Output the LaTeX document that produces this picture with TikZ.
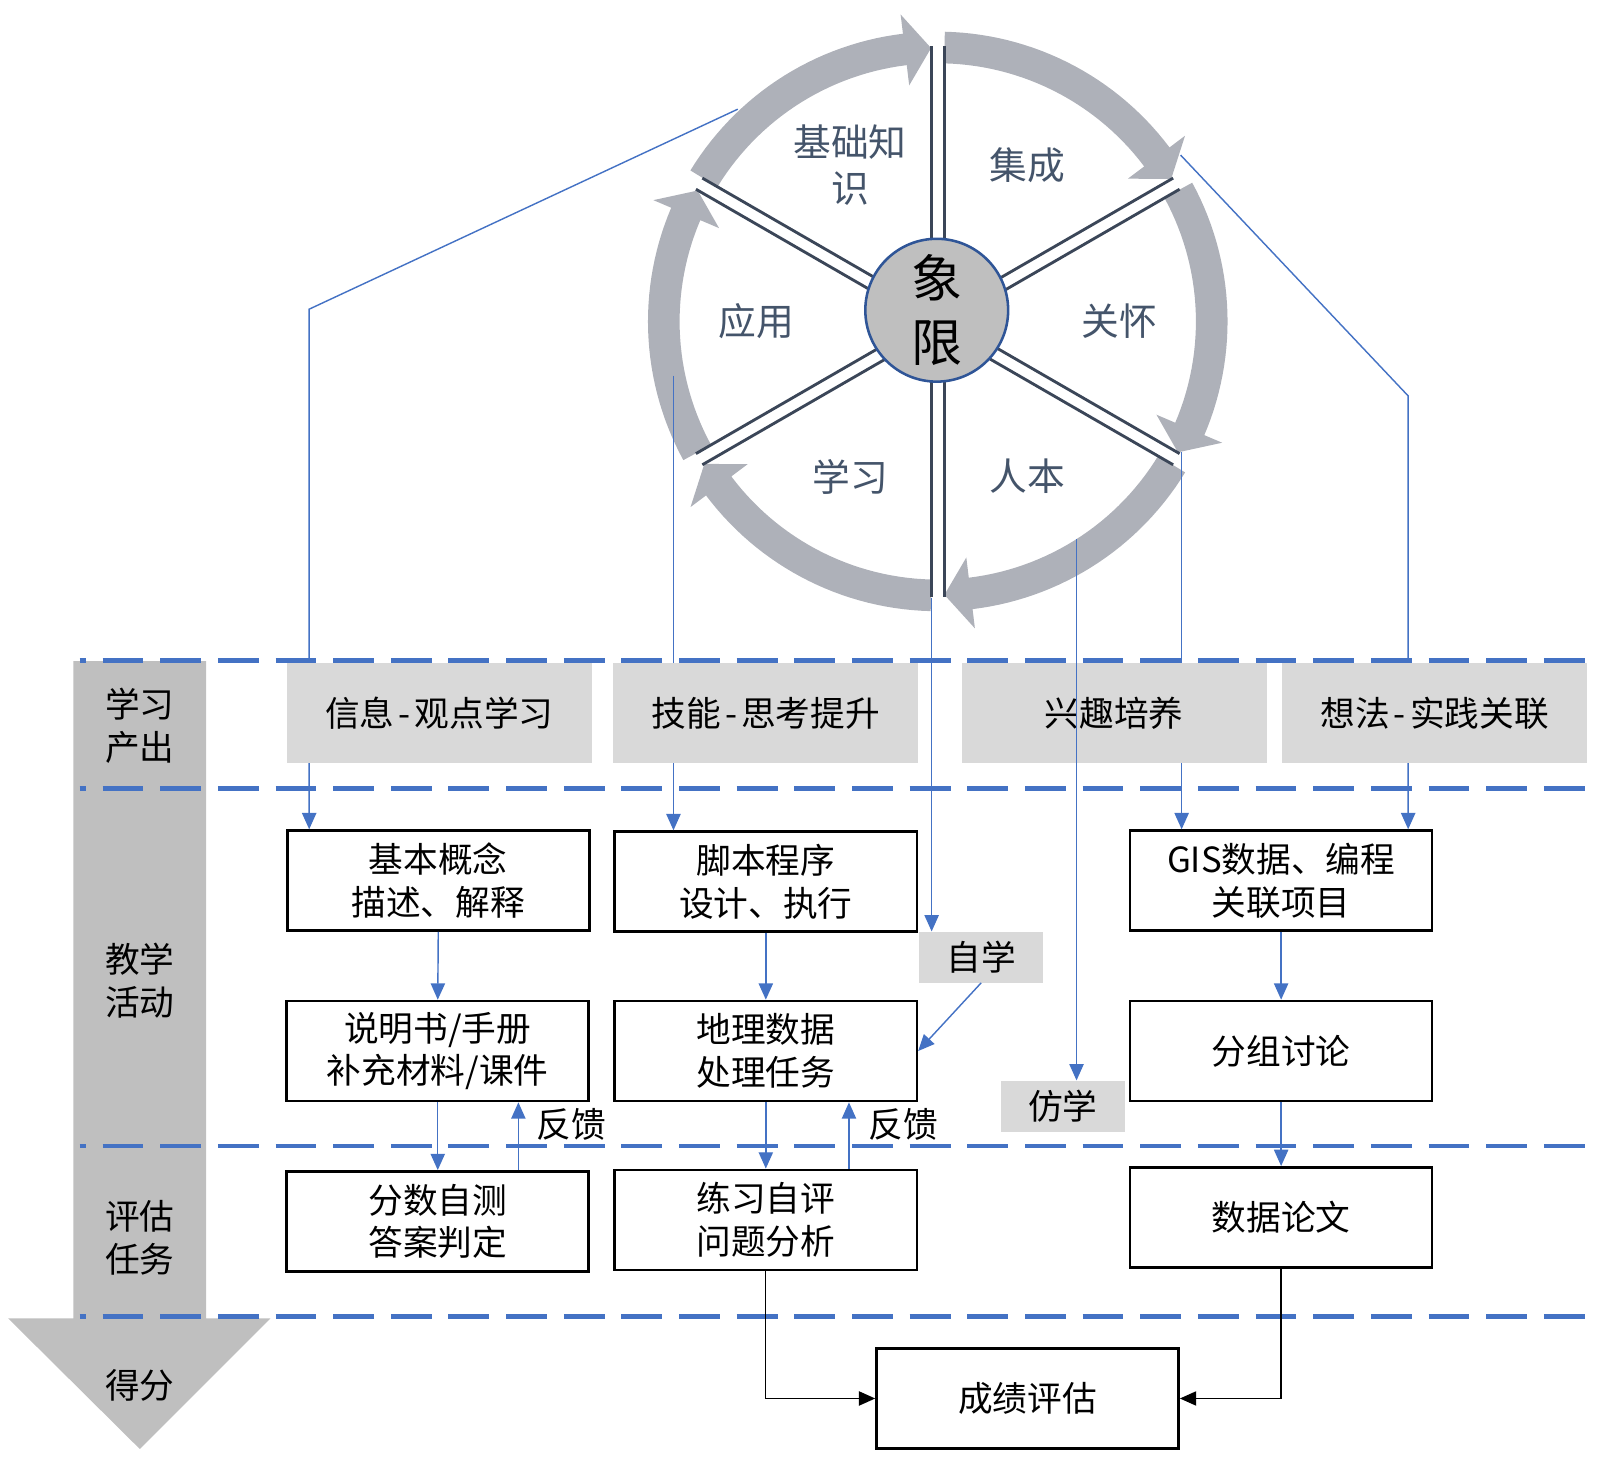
\documentclass[tikz,border=0pt]{standalone}
\usepackage{fontspec}
\setmainfont{Noto Sans CJK SC}
\usetikzlibrary{arrows.meta,calc}
\definecolor{ringgray}{HTML}{AEB1B9}
\definecolor{spokecol}{HTML}{3B4658}
\definecolor{circfill}{HTML}{BFBFBF}
\definecolor{circline}{HTML}{2F5597}
\definecolor{wheeltext}{HTML}{44546A}
\definecolor{blueline}{HTML}{4472C4}
\definecolor{lightbox}{HTML}{D9D9D9}
\definecolor{bandgray}{HTML}{BFBFBF}
\newcommand{\hy}{\hspace{4pt}-\hspace{4pt}}
\tikzset{
  every node/.style={inner sep=0pt},
  wbox/.style={draw=black, line width=2.6pt, fill=white, minimum width=296pt, minimum height=98pt, align=center, font=\fontsize{34}{42}\selectfont},
  gbox/.style={fill=lightbox, minimum width=299pt, minimum height=98pt, align=center, font=\fontsize{34}{42}\selectfont},
  sbox/.style={fill=lightbox, minimum width=121pt, minimum height=50pt, font=\fontsize{34}{42}\selectfont},
  lane/.style={align=center, font=\fontsize{34}{42}\selectfont},
  wlabel/.style={align=center, text=wheeltext, font=\fontsize{37}{45}\selectfont},
  bl/.style={draw=blueline, line width=1.4pt},
  blarrow/.style={bl, -{Triangle[length=16pt,width=14pt]}},
  karrow/.style={draw=black, line width=1.3pt, -{Triangle[length=16pt,width=14pt]}},
  lanedash/.style={draw=blueline, line width=4.5pt, dash pattern=on 40pt off 16.5pt, dash phase=34pt},
  spokeline/.style={draw=spokecol, line width=2.8pt},
}
\begin{document}
\begin{tikzpicture}[x=1pt,y=-1pt]
\useasboundingbox (0,0) rectangle (1568,1437);
% left lane arrow
\fill[bandgray] (72,648) -- (202,648) -- (202,1292) -- (265,1292) -- (137,1420) -- (8,1292) -- (72,1292) -- cycle;
\node[lane] (l1) at (137,711) {学习\\产出};
\node[lane] (l2) at (137,961) {教学\\活动};
\node[lane] (l3) at (137,1213) {评估\\任务};
\node[lane] (l4) at (137,1358) {得分};
% dashed lane separators
\foreach \yy in {647,773,1123,1290} \draw[lanedash] (78,\yy) -- (1555,\yy);
% wheel ring
\begin{scope}[shift={(919,315)}]
\foreach \a in {210,270,330,30,90,150}{
  \pgfmathsetmacro\tailA{\a+1.4}
  \pgfmathsetmacro\tipA{\a+60-1.4}
  \pgfmathsetmacro\baseA{\a+60-1.4-5.5}
  \fill[ringgray] plot[domain=\tailA:\baseA, samples=30] (\x:284) -- (\baseA:303) -- (\tipA:268) -- (\baseA:233) -- plot[domain=\baseA:\tailA, samples=30] (\x:253) -- cycle;
}
\foreach \a in {30,90,150,210,270,330}{
  \pgfmathsetmacro\nx{-6.3*sin(\a)}
  \pgfmathsetmacro\ny{6.3*cos(\a)}
  \pgfmathsetmacro\mx{6.3*sin(\a)}
  \pgfmathsetmacro\my{-6.3*cos(\a)}
  \draw[spokeline] (\nx,\ny) -- ({270*cos(\a)+\nx},{270*sin(\a)+\ny});
  \draw[spokeline] (\mx,\my) -- ({270*cos(\a)+\mx},{270*sin(\a)+\my});
}
\end{scope}
\node[circle, draw=circline, line width=2.5pt, fill=circfill, minimum size=140pt, align=center, font=\fontsize{50}{63}\selectfont] (hub) at (918,304) {象\\限};
\node[wlabel] (w1) at (833,162) {基础知\\识};
\node[wlabel] (w2) at (1007,162) {集成};
\node[wlabel] (w3) at (1097,315) {关怀};
\node[wlabel] (w4) at (1007,467) {人本};
\node[wlabel] (w5) at (833,467) {学习};
\node[wlabel] (w6) at (741,315) {应用};
% white boxes
\node[wbox] (b11) at (429.5,863) {基本概念\\描述、解释};
\node[wbox] (b12) at (750.5,864) {脚本程序\\设计、执行};
\node[wbox] (b14) at (1255.5,863) {GIS数据、编程\\关联项目};
\node[wbox] (b21) at (429,1030) {说明书/手册\\补充材料/课件};
\node[wbox] (b22) at (750.5,1030) {地理数据\\处理任务};
\node[wbox] (b24) at (1255.5,1030) {分组讨论};
\node[wbox] (b31) at (429,1197) {分数自测\\答案判定};
\node[wbox] (b32) at (750.5,1195.5) {练习自评\\问题分析};
\node[wbox] (b34) at (1255.5,1193) {数据论文};
\node[wbox] (score) at (1007,1370.5) {成绩评估};
% lines from wheel (behind gray boxes)
\coordinate (s1) at (723,107);
\coordinate (k1) at (303,303);
\coordinate (s2) at (660,368);
\coordinate (s3) at (913,586);
\coordinate (s5) at (1157,152);
\coordinate (k5) at (1380,388);
\coordinate (s6) at (1158,443);
\draw[blarrow] (s1) -- (k1) -- (k1 |- b11.north);
\draw[blarrow] (s2) -- (s2 |- b12.north);
\draw[blarrow] (s5) -- (k5) -- (k5 |- b14.north);
\draw[blarrow] (s6) -- (s6 |- b14.north);
% gray boxes
\node[gbox] (g1) at (430.5,699) {信息\hy 观点学习};
\node[gbox] (g2) at (750.5,699) {技能\hy 思考提升};
\node[gbox] (g3) at (1092,699) {兴趣培养};
\node[gbox] (g4) at (1406,699) {想法\hy 实践关联};
\node[sbox] (zx) at (961.5,938) {自学};
\node[sbox] (fx) at (1041.5,1084) {仿学};
\draw[blarrow] (s3) -- (s3 |- zx.north);
\coordinate (s4) at (1055,528);
\draw[blarrow] (s4) -- (s4 |- fx.north);
% flow connectors
\draw[blarrow] (b11.south) -- (b21.north);
\draw[blarrow] (b12.south) -- (b22.north);
\draw[blarrow] (b14.south) -- (b24.north);
\draw[blarrow] (b21.south) -- (b31.north);
\draw[blarrow] (b22.south) -- (b32.north);
\draw[blarrow] (b24.south) -- (b34.north);
\draw[blarrow] ($(b31.north)+(79,0)$) -- ($(b21.south)+(79,0)$);
\draw[blarrow] ($(b32.north)+(81.5,0)$) -- ($(b22.south)+(81.5,0)$);
\draw[blarrow] (zx.south) -- (b22.east);
\node[lane, anchor=west] (fb1) at (526,1102) {反馈};
\node[lane, anchor=west] (fb2) at (851,1102) {反馈};
\draw[karrow] (b32.south) |- (score.west);
\draw[karrow] (b34.south) |- (score.east);
\end{tikzpicture}
\end{document}
